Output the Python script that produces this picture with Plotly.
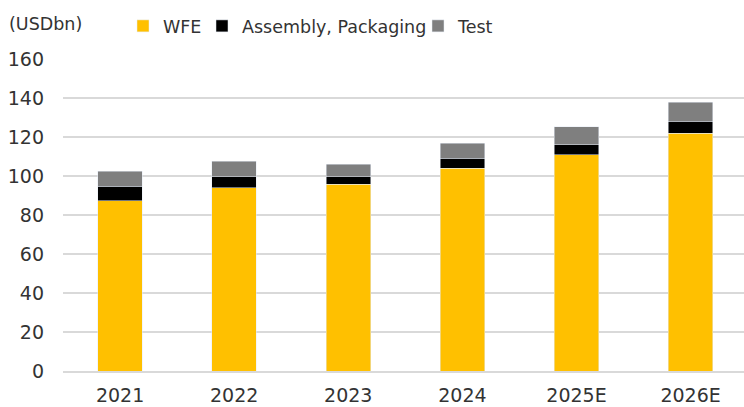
import plotly.graph_objects as go

years = ["2021", "2022", "2023", "2024", "2025E", "2026E"]
wfe = [87.4, 94.1, 95.7, 103.9, 111.0, 121.8]
assembly_packaging = [7.3, 5.5, 3.9, 5.2, 5.1, 6.3]
test = [7.7, 8.0, 6.5, 7.7, 9.1, 9.6]

y_ticks = [0, 20, 40, 60, 80, 100, 120, 140, 160]

FONT = "DejaVu Sans"
TXT = "#333333"
L, T, B, W, H = 63, 59, 36, 744, 407
PW, PH = W - L, H - T - B

fig = go.Figure()
fig.add_trace(go.Bar(x=years, y=wfe, name="WFE", marker_color="#FFC000",
                     width=0.39, legend="legend"))
fig.add_trace(go.Bar(x=years, y=assembly_packaging, name="Assembly, Packaging",
                     marker_color="#000000", width=0.39, legend="legend2"))
fig.add_trace(go.Bar(x=years, y=test, name="Test", marker_color="#7F7F7F",
                     width=0.39, legend="legend3"))

leg_common = dict(xref="container", yref="container", yanchor="middle",
                  y=1 - 26 / H, xanchor="left", bgcolor="rgba(0,0,0,0)",
                  borderwidth=0, font=dict(family=FONT, size=17.5, color=TXT),
                  itemwidth=30, orientation="h")

fig.update_layout(
    width=W, height=H,
    margin=dict(l=L, r=0, t=T, b=B, autoexpand=False),
    barmode="stack",
    showlegend=True,
    plot_bgcolor="white", paper_bgcolor="white",
    font=dict(family=FONT, size=18, color=TXT),
    legend=dict(leg_common, x=(163 - 40) / W),
    legend2=dict(leg_common, x=(242 - 40) / W),
    legend3=dict(leg_common, x=(458 - 40) / W),
    xaxis=dict(range=[-0.5, 5.468], showgrid=False, showline=True,
               linecolor="#D9D9D9", linewidth=1.5, ticks="",
               tickfont=dict(family=FONT, size=19, color=TXT),
               ticklabelstandoff=6, fixedrange=True),
    yaxis=dict(range=[0, 160], tickvals=y_ticks, showgrid=True,
               gridcolor="#D9D9D9", gridwidth=1.5, zeroline=False,
               showline=False, ticks="",
               tickfont=dict(family=FONT, size=19, color=TXT),
               ticklabelstandoff=18, fixedrange=True),
    annotations=[dict(text="(USDbn)", xref="paper", yref="paper",
                      x=(7 - L) / PW, y=(H - B - 24) / PH,
                      xanchor="left", yanchor="middle", showarrow=False,
                      font=dict(family=FONT, size=17.5, color=TXT))],
)

fig.write_html("out.html", config={"displayModeBar": False},
               post_script="document.body.style.margin='0';")
